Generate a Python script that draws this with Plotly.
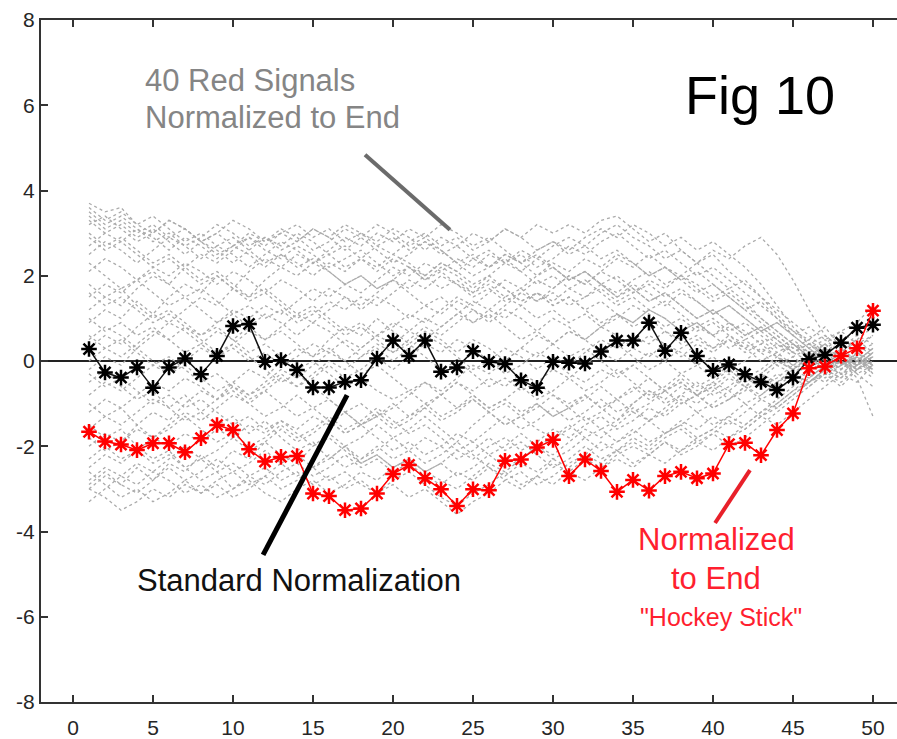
import plotly.graph_objects as go

x_idx = list(range(1, 51))

standard_norm = [0.28, -0.27, -0.39, -0.15, -0.63, -0.15, 0.06, -0.31, 0.12, 0.82,
                 0.87, -0.02, 0.02, -0.21, -0.62, -0.62, -0.49, -0.45, 0.06, 0.48,
                 0.12, 0.48, -0.25, -0.15, 0.23, -0.02, -0.07, -0.45, -0.63, -0.02,
                 -0.04, -0.06, 0.22, 0.48, 0.48, 0.90, 0.24, 0.66, 0.12, -0.23,
                 -0.08, -0.31, -0.49, -0.68, -0.39, 0.04, 0.14, 0.43, 0.78, 0.85]

normalized_end = [-1.66, -1.89, -1.96, -2.09, -1.93, -1.93, -2.14, -1.81, -1.50, -1.62,
                  -2.07, -2.36, -2.25, -2.23, -3.11, -3.17, -3.50, -3.46, -3.11, -2.65,
                  -2.44, -2.75, -3.01, -3.40, -3.01, -3.03, -2.34, -2.31, -2.03, -1.85,
                  -2.70, -2.31, -2.58, -3.07, -2.79, -3.04, -2.70, -2.60, -2.75, -2.64,
                  -1.95, -1.92, -2.21, -1.62, -1.23, -0.17, -0.13, 0.12, 0.30, 1.18]

gray_01 = [3.7,3.5,3.6,3.2,3.0,3.3,3.1,2.8,3.0,2.7, 2.9,2.6,2.4,2.7,2.5,2.2,2.4,2.6,2.3,2.0, 2.2,1.9,2.1,1.8,1.6,1.9,1.7,1.4,1.6,1.3, 1.5,1.2,1.4,1.1,0.9,1.2,1.0,0.7,0.9,0.6, 0.8,0.5,0.7,0.4,0.2,0.4,0.1,-0.2,0.1,-0.3]
gray_02 = [-3.0,-2.7,-2.9,-2.5,-2.8,-2.4,-2.6,-2.2,-2.5,-2.1, -2.3,-1.9,-2.2,-2.4,-2.0,-1.7,-2.0,-1.8,-1.5,-1.8, -1.6,-1.3,-1.6,-1.9,-1.5,-1.2,-1.5,-1.3,-1.0,-1.3, -1.1,-0.8,-1.1,-1.4,-1.0,-0.7,-1.0,-0.8,-0.5,-0.8, -0.6,-0.3,-0.6,-0.4,-0.1,-0.3,0.1,-0.2,0.2,0.0]
gray_03 = [1.2,1.5,1.3,1.7,2.0,1.8,2.2,2.5,2.3,2.6, 2.9,2.7,3.0,2.8,3.1,2.9,2.6,2.9,3.2,3.0, 2.7,2.9,2.6,2.3,2.5,2.2,2.4,2.1,1.8,2.0, 1.7,1.9,1.6,1.3,1.5,1.2,1.4,1.1,0.8,1.0, 0.7,0.9,0.6,0.3,0.5,0.2,0.4,0.1,-0.1,0.2]
gray_04 = [-1.5,-1.8,-1.6,-2.0,-2.3,-2.1,-2.5,-2.8,-2.6,-3.0, -2.8,-3.1,-3.3,-3.0,-2.8,-3.1,-2.9,-2.6,-2.8,-2.5, -2.3,-2.6,-2.4,-2.1,-2.3,-2.0,-1.8,-2.1,-1.9,-1.6, -1.8,-1.5,-1.3,-1.6,-1.4,-1.1,-1.3,-1.0,-0.8,-1.1, -0.9,-0.6,-0.8,-0.5,-0.3,-0.5,-0.2,0.1,-0.1,0.2]
gray_05 = [2.5,2.8,2.6,2.3,2.6,2.9,2.7,2.4,2.7,2.5, 2.2,2.5,2.8,2.6,2.3,2.5,2.2,2.4,2.7,2.5, 2.8,3.0,2.7,2.9,2.6,2.8,3.1,2.9,2.6,2.8, 2.5,2.7,2.4,2.6,2.3,2.0,2.2,1.9,1.6,1.8, 1.5,1.2,1.4,1.0,0.7,0.5,0.8,0.3,0.6,0.4]
gray_06 = [-0.5,-0.2,-0.6,-0.9,-0.7,-1.1,-0.8,-1.2,-1.5,-1.3, -1.7,-1.4,-1.8,-2.1,-1.9,-2.3,-2.0,-2.4,-2.2,-2.5, -2.3,-2.6,-2.4,-2.7,-2.5,-2.2,-2.5,-2.3,-2.0,-2.3, -2.1,-1.8,-2.1,-1.9,-1.6,-1.9,-1.7,-1.4,-1.6,-1.3, -1.5,-1.2,-0.9,-1.1,-0.8,-0.5,-0.2,-0.4,0.0,0.3]
gray_07 = [3.3,3.0,3.2,2.9,3.1,2.8,2.5,2.8,2.6,2.3, 2.6,2.9,2.7,3.0,2.8,2.5,2.7,2.4,2.1,2.4, 2.2,1.9,2.2,2.0,1.7,2.0,2.3,2.1,2.4,2.2, 1.9,2.1,1.8,1.5,1.8,1.6,1.3,1.6,1.4,1.1, 1.3,1.0,0.7,0.9,0.6,0.8,0.5,0.7,0.4,0.6]
gray_08 = [-2.6,-2.9,-3.2,-3.0,-3.3,-3.1,-2.8,-3.1,-2.9,-3.2, -3.0,-2.7,-3.0,-2.8,-2.5,-2.8,-2.6,-2.9,-3.1,-2.8, -2.6,-2.9,-3.2,-3.4,-3.1,-2.9,-2.6,-2.9,-2.7,-2.4, -2.6,-2.3,-2.5,-2.2,-2.0,-2.2,-1.9,-2.1,-1.8,-1.6, -1.8,-1.5,-1.2,-1.0,-0.7,-0.5,-0.2,-0.4,-0.1,0.1]
gray_09 = [0.3,0.6,0.4,0.8,1.1,0.9,1.2,1.5,1.3,1.7, 1.5,1.9,2.2,2.0,2.3,2.1,1.8,2.0,1.7,1.9, 1.6,1.3,1.5,1.2,0.9,1.1,0.8,0.5,0.7,0.4, 0.1,0.3,0.0,-0.3,-0.1,-0.4,-0.7,-0.5,-0.8,-0.6, -0.9,-0.7,-0.4,-0.6,-0.3,-0.5,-0.2,0.1,-0.1,0.2]
gray_10 = [-3.0,-3.2,-3.5,-3.3,-3.0,-3.2,-2.9,-3.1,-2.8,-2.6, -2.9,-2.7,-2.4,-2.7,-2.5,-2.2,-2.5,-2.3,-2.0,-2.3, -2.1,-1.8,-2.0,-1.7,-1.9,-1.6,-1.3,-1.6,-1.4,-1.1, -1.4,-1.2,-0.9,-1.2,-1.0,-0.7,-0.9,-0.6,-0.8,-0.5, -0.7,-0.4,-0.6,-0.3,-0.5,-0.2,-0.4,-0.1,0.1,-0.2]
gray_11 = [1.8,1.5,1.7,1.3,1.0,1.2,0.9,0.6,0.8,0.5, 0.2,0.4,0.1,-0.2,0.0,-0.3,-0.6,-0.4,-0.7,-0.9, -0.7,-1.0,-0.8,-0.5,-0.8,-1.1,-0.9,-0.6,-0.9,-0.7, -0.4,-0.7,-0.5,-0.2,-0.5,-0.8,-0.6,-0.3,-0.6,-0.4, -0.1,-0.4,-0.2,0.1,-0.1,0.2,-0.1,0.1,-0.2,0.0]
gray_12 = [3.5,3.2,3.4,3.1,2.8,3.0,2.7,2.9,3.2,3.0, 2.7,2.9,2.6,2.8,3.1,2.9,3.2,3.0,2.8,3.1, 2.9,2.6,2.9,2.7,3.0,2.8,3.1,2.9,3.2,3.0, 3.2,3.0,3.3,3.4,3.1,2.8,3.0,2.6,2.3,2.5, 2.1,1.8,1.5,1.2,0.9,0.6,0.3,0.5,0.2,0.4]
gray_13 = [-2.0,-1.7,-1.9,-1.5,-1.2,-1.4,-1.0,-0.7,-0.9,-0.5, -0.2,-0.4,0.0,0.3,0.1,0.5,0.8,0.6,1.0,0.7, 0.4,0.7,0.5,0.2,0.5,0.3,0.0,0.3,0.6,0.4, 0.7,0.5,0.2,0.4,0.1,-0.2,0.0,-0.3,-0.1,-0.4, -0.2,-0.5,-0.3,0.0,-0.2,0.1,-0.1,0.2,0.0,-0.3]
gray_14 = [0.9,1.2,1.0,1.4,1.1,1.5,1.8,1.6,2.0,1.7, 2.1,2.4,2.2,2.5,2.3,2.6,2.9,2.7,3.0,2.8, 3.1,2.9,3.2,3.0,2.7,2.9,2.6,2.3,2.5,2.2, 1.9,2.1,1.8,2.0,1.7,1.4,1.6,1.3,1.0,1.2, 0.9,0.6,0.8,0.5,0.2,0.4,0.1,-0.2,0.1,-0.1]
gray_15 = [-1.0,-1.3,-1.1,-1.5,-1.8,-1.6,-1.3,-1.6,-1.9,-1.7, -2.0,-1.8,-1.5,-1.8,-1.6,-1.3,-1.6,-1.4,-1.1,-1.4, -1.7,-1.5,-1.8,-2.1,-1.9,-2.2,-2.0,-1.7,-2.0,-1.8, -1.5,-1.8,-1.6,-1.9,-1.7,-1.4,-1.7,-1.5,-1.2,-1.5, -1.3,-1.0,-1.3,-1.1,-0.8,-0.5,-0.3,-0.6,-0.2,0.1]
gray_16 = [2.1,2.4,2.2,1.9,2.1,1.8,1.5,1.7,1.4,1.1, 1.3,1.0,1.2,0.9,1.1,1.4,1.2,1.5,1.3,1.6, 1.9,1.7,2.0,1.8,1.5,1.7,1.4,1.6,1.9,1.7, 2.0,1.8,2.1,1.9,1.6,1.8,1.5,1.7,1.4,1.1, 1.3,1.0,0.7,0.9,0.6,0.3,0.5,0.2,0.4,0.1]
gray_17 = [-2.3,-2.0,-2.3,-2.1,-2.4,-2.2,-2.5,-2.3,-2.6,-2.4, -2.7,-2.5,-2.8,-2.6,-2.9,-2.7,-3.0,-2.8,-3.1,-2.9, -3.2,-3.0,-3.3,-3.6,-3.3,-3.1,-2.8,-3.0,-2.7,-2.9, -2.6,-2.8,-2.5,-2.3,-2.5,-2.2,-2.4,-2.1,-1.9,-2.1, -1.8,-1.6,-1.3,-1.5,-1.2,-0.9,-0.6,-0.3,-0.5,-0.1]
gray_18 = [3.0,2.7,2.9,2.6,2.3,2.5,2.2,1.9,2.1,1.8, 1.5,1.7,1.4,1.1,1.3,1.0,0.7,0.9,0.6,0.8, 1.1,0.9,1.2,1.5,1.3,1.6,1.9,1.7,2.0,2.3, 2.1,2.4,2.2,2.5,2.3,2.0,2.2,1.9,2.1,1.8, 1.5,1.2,0.9,0.6,0.3,0.5,0.2,-0.1,0.1,-0.2]
gray_19 = [-0.2,0.1,-0.1,0.3,0.0,-0.3,-0.1,-0.4,-0.7,-0.5, -0.8,-0.6,-0.3,-0.6,-0.4,-0.1,-0.4,-0.2,0.1,-0.2, 0.1,0.4,0.2,0.5,0.3,0.0,0.3,0.1,-0.2,0.1, -0.1,0.2,0.5,0.3,0.6,0.4,0.7,0.5,0.8,0.6, 0.9,0.7,0.4,0.6,0.3,0.1,0.4,0.0,-0.4,-1.3]
gray_20 = [1.5,1.8,1.6,1.9,2.2,2.0,2.3,2.1,1.8,2.1, 1.9,1.6,1.9,1.7,1.4,1.7,1.5,1.2,1.5,1.3, 1.0,1.3,1.1,1.4,1.2,0.9,1.2,1.0,0.7,1.0, 0.8,0.5,0.8,0.6,0.3,0.6,0.4,0.1,0.4,0.2, 0.5,0.3,0.0,0.2,-0.1,0.1,0.4,0.7,0.9,1.3]
gray_21 = [-2.8,-2.5,-2.7,-2.4,-2.6,-2.3,-2.0,-2.3,-2.1,-1.8, -2.1,-1.9,-1.6,-1.9,-1.7,-1.4,-1.7,-1.5,-1.2,-1.5, -1.3,-1.0,-1.3,-1.1,-0.8,-1.1,-0.9,-1.2,-1.0,-1.3, -1.1,-1.4,-1.2,-0.9,-1.2,-1.0,-0.7,-1.0,-0.8,-1.1, -0.9,-0.6,-0.9,-0.7,-0.4,-0.6,-0.3,0.0,-0.2,0.1]
gray_22 = [2.9,2.6,2.8,2.5,2.2,2.4,2.1,1.8,2.0,1.7, 1.4,1.6,1.3,1.0,1.2,0.9,0.6,0.8,0.5,0.2, 0.4,0.1,-0.2,0.0,-0.3,-0.6,-0.4,-0.7,-0.5,-0.8, -1.0,-0.8,-1.1,-0.9,-0.6,-0.9,-0.7,-0.4,-0.7,-0.5, -0.2,-0.5,-0.3,0.0,-0.2,0.1,-0.1,0.2,0.0,0.3]
gray_23 = [-1.8,-2.1,-1.9,-1.6,-1.8,-1.5,-1.2,-1.4,-1.1,-0.8, -1.0,-0.7,-0.4,-0.6,-0.3,0.0,-0.2,0.1,0.4,0.2, 0.5,0.8,0.6,0.9,1.2,1.0,1.3,1.6,1.4,1.7, 2.0,1.8,2.1,2.4,2.2,2.5,2.2,2.0,2.3,2.6, 2.4,2.7,2.9,2.5,1.9,1.2,0.6,0.3,0.0,-0.2]
gray_24 = [0.6,0.3,0.5,0.2,-0.1,0.1,-0.2,-0.5,-0.3,-0.6, -0.9,-0.7,-1.0,-1.3,-1.1,-1.4,-1.7,-1.5,-1.8,-2.1, -1.9,-2.2,-2.0,-2.3,-2.1,-1.8,-2.1,-1.9,-2.2,-2.5, -2.3,-2.0,-2.3,-2.1,-2.4,-2.2,-1.9,-2.2,-2.0,-1.7, -2.0,-1.8,-1.5,-1.2,-0.9,-0.6,-0.3,-0.5,-0.2,0.1]
gray_25 = [3.2,3.4,3.1,2.8,3.0,3.3,3.1,2.8,2.5,2.7, 3.0,2.8,3.1,2.9,2.6,2.8,3.1,2.9,2.6,2.3, 2.5,2.8,2.6,2.3,2.0,2.2,2.5,2.3,2.6,2.8, 2.6,2.9,3.1,2.9,3.2,3.0,2.7,2.9,2.6,2.8, 2.5,2.2,1.8,1.3,0.8,0.4,0.6,0.3,0.5,0.2]
gray_26 = [-3.3,-3.0,-2.7,-2.9,-2.6,-2.8,-3.1,-2.9,-3.2,-3.0, -2.7,-2.9,-2.6,-2.4,-2.7,-2.5,-2.2,-2.5,-2.3,-2.6, -2.4,-2.7,-2.9,-2.6,-2.8,-2.5,-2.7,-2.4,-2.6,-2.3, -2.5,-2.2,-2.4,-2.1,-1.9,-2.1,-1.8,-1.6,-1.9,-1.7, -1.4,-1.6,-1.3,-1.0,-0.7,-0.4,-0.1,-0.3,0.0,-0.2]
gray_27 = [1.0,0.7,0.9,0.6,0.8,0.5,0.2,0.4,0.1,0.3, 0.0,0.2,-0.1,0.1,0.4,0.2,0.5,0.3,0.6,0.9, 0.7,1.0,0.8,1.1,1.4,1.2,1.5,1.3,1.0,1.2, 0.9,1.1,0.8,1.0,1.3,1.1,0.8,1.0,0.7,0.9, 0.6,0.3,0.5,0.2,0.4,0.1,-0.2,0.0,-0.3,-0.1]
gray_28 = [-0.8,-0.5,-0.7,-0.4,-0.1,-0.3,0.0,0.3,0.1,0.4, 0.7,0.5,0.8,1.1,0.9,1.2,1.5,1.3,1.6,1.9, 1.7,2.0,2.3,2.1,2.4,2.2,2.5,2.3,2.0,2.2, 1.9,2.1,1.8,1.5,1.7,1.4,1.6,1.3,1.0,1.2, 0.9,0.6,0.8,0.5,0.2,0.0,0.3,0.1,-0.2,0.0]
gray_29 = [2.3,2.0,1.7,1.9,1.6,1.3,1.5,1.2,0.9,1.1, 0.8,0.5,0.7,0.4,0.1,0.3,0.0,-0.3,-0.1,-0.4, -0.7,-0.5,-0.8,-1.1,-0.9,-1.2,-1.5,-1.3,-1.6,-1.8, -1.6,-1.3,-1.6,-1.4,-1.1,-1.4,-1.2,-0.9,-1.2,-1.0, -0.7,-1.0,-0.8,-0.5,-0.2,-0.4,-0.1,0.2,0.0,0.3]
gray_30 = [-2.5,-2.2,-2.4,-2.1,-1.8,-2.0,-1.7,-1.9,-1.6,-1.8, -1.5,-1.7,-1.4,-1.6,-1.3,-1.5,-1.2,-1.5,-1.3,-1.6, -1.4,-1.1,-1.4,-1.2,-0.9,-1.2,-1.0,-1.3,-1.1,-0.8, -1.1,-0.9,-0.6,-0.9,-0.7,-0.4,-0.7,-0.5,-0.8,-0.6, -0.3,-0.6,-0.4,-0.1,-0.3,0.0,-0.3,-0.1,0.2,-0.1]
gray_31 = [3.6,3.3,3.5,3.2,3.4,3.1,2.8,3.0,2.7,2.9, 2.6,2.3,2.5,2.2,2.4,2.1,1.8,2.0,1.7,1.9, 2.2,2.0,2.3,2.1,1.8,2.0,1.7,1.4,1.6,1.3, 1.5,1.2,0.9,1.1,0.8,1.0,0.7,0.4,0.6,0.3, 0.5,0.2,0.4,0.1,-0.2,0.0,0.3,0.1,-0.1,0.2]
gray_32 = [-1.2,-0.9,-1.1,-0.8,-0.5,-0.7,-0.4,-0.6,-0.9,-0.7, -1.0,-1.3,-1.1,-0.8,-1.1,-0.9,-1.2,-1.5,-1.3,-1.0, -1.3,-1.1,-0.8,-0.5,-0.7,-0.4,-0.6,-0.3,-0.5,-0.2, -0.4,-0.1,0.2,0.0,0.3,0.1,0.4,0.2,-0.1,0.1, -0.2,0.0,0.3,0.1,0.4,0.2,-0.1,0.1,-0.2,0.0]
gray_33 = [0.0,0.3,0.1,0.4,0.7,0.5,0.8,0.6,0.9,1.2, 1.0,1.3,1.1,1.4,1.7,1.5,1.8,1.6,1.9,2.2, 2.0,2.3,2.1,2.4,2.2,2.5,2.3,2.6,2.4,2.7, 2.9,2.7,3.0,3.2,2.9,2.7,2.4,2.6,2.3,2.0, 1.7,1.9,1.5,1.1,0.7,0.4,0.2,0.5,0.3,0.6]
gray_34 = [-2.9,-2.6,-2.9,-3.1,-2.8,-2.5,-2.8,-2.6,-2.3,-2.6, -2.4,-2.1,-2.4,-2.2,-2.5,-2.3,-2.0,-2.3,-2.1,-1.8, -2.1,-2.4,-2.2,-1.9,-2.2,-2.5,-2.8,-2.6,-2.9,-2.7, -2.4,-2.2,-1.9,-2.1,-1.8,-2.0,-1.7,-1.5,-1.8,-1.6, -1.3,-1.5,-1.2,-0.9,-0.6,-0.3,-0.5,-0.2,0.1,-0.1]
gray_35 = [1.6,1.3,1.5,1.2,0.9,1.1,0.8,0.5,0.2,0.4, 0.1,-0.2,-0.5,-0.3,-0.6,-0.9,-1.2,-1.0,-1.3,-1.1, -0.8,-0.5,-0.7,-0.4,-0.1,-0.3,0.0,0.3,0.1,0.4, 0.7,0.5,0.8,1.1,0.9,1.2,1.0,0.7,0.9,0.6, 0.3,0.5,0.2,-0.1,0.1,-0.2,0.1,-0.1,0.2,-0.1]
gray_36 = [2.7,3.0,2.8,3.1,2.9,2.6,2.9,2.7,2.4,2.7, 2.5,2.2,2.5,2.3,2.0,2.3,2.1,2.4,2.2,2.5, 2.3,2.0,1.7,1.9,1.6,1.8,1.5,1.7,1.4,1.6, 1.3,1.5,1.7,1.4,1.6,1.9,1.7,2.0,1.8,1.5, 1.7,1.4,1.0,0.7,0.4,0.1,0.3,0.0,-0.2,0.1]
gray_37 = [-0.3,-0.6,-0.4,-0.7,-1.0,-0.8,-1.1,-0.9,-1.2,-1.5, -1.3,-1.6,-1.4,-1.7,-2.0,-1.8,-2.1,-2.4,-2.2,-2.5, -2.3,-2.6,-2.8,-3.0,-2.7,-2.4,-2.6,-2.3,-2.0,-2.2, -1.9,-1.6,-1.8,-1.5,-1.2,-1.4,-1.1,-0.8,-1.0,-0.7, -0.4,-0.6,-0.3,-0.5,-0.2,0.1,-0.1,0.2,-0.1,0.1]
gray_38 = [0.5,0.8,0.6,0.3,0.6,0.9,0.7,0.4,0.7,0.5, 0.8,1.1,0.9,0.6,0.9,0.7,0.4,0.1,0.3,0.0, 0.3,0.6,0.4,0.1,-0.2,0.0,-0.3,-0.1,0.2,0.0, -0.3,-0.5,-0.2,-0.4,-0.1,0.2,0.0,0.3,0.5,0.3, 0.6,0.4,0.2,0.4,0.1,0.3,0.0,0.2,0.5,0.8]
gray_39 = [-1.6,-1.3,-1.5,-1.2,-0.9,-1.1,-1.4,-1.2,-0.9,-0.6, -0.8,-0.5,-0.2,-0.4,-0.1,0.2,0.0,0.3,0.6,0.4, 0.7,0.5,0.8,1.1,0.9,1.2,1.0,1.3,1.6,1.4, 1.7,1.5,1.8,1.6,1.9,2.1,1.8,2.0,1.7,1.4, 1.6,1.3,1.0,0.7,0.4,0.1,-0.2,0.0,-0.3,-0.6]
gray_40 = [3.4,3.1,3.3,3.0,3.2,2.9,3.1,2.8,3.0,3.3, 3.1,2.8,3.0,3.2,2.9,3.1,2.8,3.0,2.7,2.9, 2.6,2.8,2.5,2.7,2.4,2.6,2.3,2.5,2.2,2.4, 2.7,2.5,2.8,3.0,2.7,2.4,2.6,2.3,2.0,2.2, 1.9,1.6,1.3,1.0,0.6,0.3,0.0,-0.3,-0.1,-0.4]

gray_signals = [gray_01, gray_02, gray_03, gray_04, gray_05, gray_06, gray_07, gray_08, gray_09, gray_10,
                gray_11, gray_12, gray_13, gray_14, gray_15, gray_16, gray_17, gray_18, gray_19, gray_20,
                gray_21, gray_22, gray_23, gray_24, gray_25, gray_26, gray_27, gray_28, gray_29, gray_30,
                gray_31, gray_32, gray_33, gray_34, gray_35, gray_36, gray_37, gray_38, gray_39, gray_40]

x_ticks = [0, 5, 10, 15, 20, 25, 30, 35, 40, 45, 50]
y_ticks = [-8, -6, -4, -2, 0, 2, 4, 6, 8]
y_tick_labels = ["-8", "-6", "-4", "-2", "0", "2", "4", "6", "8"]

FONT = "Liberation Sans, Arial, sans-serif"

fig = go.Figure()

for s in gray_signals:
    fig.add_trace(go.Scatter(
        x=list(range(1, len(s) + 1)), y=s, mode="lines",
        line=dict(color="#ababab", width=1.3, dash="3px,3px"),
        hoverinfo="skip", showlegend=False))

fig.add_trace(go.Scatter(
    x=x_idx, y=standard_norm, mode="lines+markers",
    line=dict(color="#111111", width=1.5),
    marker=dict(symbol="asterisk-open", size=13, color="#000000",
                line=dict(color="#000000", width=2.5)),
    showlegend=False))

fig.add_trace(go.Scatter(
    x=x_idx, y=normalized_end, mode="lines+markers",
    line=dict(color="#ff0000", width=1.5),
    marker=dict(symbol="asterisk-open", size=13, color="#ff0000",
                line=dict(color="#ff0000", width=2.5)),
    showlegend=False))

# zero line below traces
fig.add_shape(type="line", xref="paper", yref="y", x0=0, x1=1, y0=0, y1=0,
              line=dict(color="#222222", width=2), layer="below")

# pointer strokes
pointers = [
    ((18.25, 4.84), (23.56, 3.08), "#6b6b6b", 4),
    ((17.13, -0.80), (11.88, -4.55), "#000000", 5),
    ((42.31, -2.56), (40.13, -3.80), "#e8202a", 4),
]
for (xa, ya), (xb, yb), c, w in pointers:
    fig.add_shape(type="line", xref="x", yref="y", x0=xa, y0=ya, x1=xb, y1=yb,
                  line=dict(color=c, width=w), layer="above")

texts = [
    ("40 Red Signals", 4.375, 6.59, "left", "#858585", 31),
    ("Normalized to End", 4.375, 5.72, "left", "#858585", 31),
    ("Fig 10", 42.94, 6.24, "center", "#000000", 54),
    ("Standard Normalization", 3.875, -5.14, "left", "#111111", 31),
    ("Normalized", 40.19, -4.18, "center", "#ff1f2f", 31),
    ("to End", 40.19, -5.11, "center", "#ff1f2f", 31),
    ("\"Hockey Stick\"", 40.5, -6.01, "center", "#ff1f2f", 25),
]
for t, tx, ty, xa, c, fs in texts:
    fig.add_annotation(text=t, x=tx, y=ty, xref="x", yref="y", xanchor=xa,
                       yanchor="middle", showarrow=False,
                       font=dict(family=FONT, size=fs, color=c))

fig.update_xaxes(range=[-2, 51.5], tickvals=x_ticks, ticks="inside", ticklen=7,
                 tickwidth=1.5, tickcolor="#333333", showline=True, linewidth=2,
                 linecolor="#333333", mirror="ticks", showgrid=False, zeroline=False,
                 ticklabelstandoff=6,
                 tickfont=dict(family=FONT, size=21, color="#262626"))
fig.update_yaxes(range=[-8, 8], tickvals=y_ticks, ticktext=y_tick_labels,
                 ticks="inside", ticklen=7,
                 tickwidth=1.5, tickcolor="#333333", showline=True, linewidth=2,
                 linecolor="#333333", mirror=False, showgrid=False, zeroline=False,
                 tickfont=dict(family=FONT, size=21, color="#262626"))

fig.update_layout(width=897, height=739, margin=dict(l=41, r=0, t=20, b=37),
                  plot_bgcolor="white", paper_bgcolor="white")

fig.write_html("out.html")
